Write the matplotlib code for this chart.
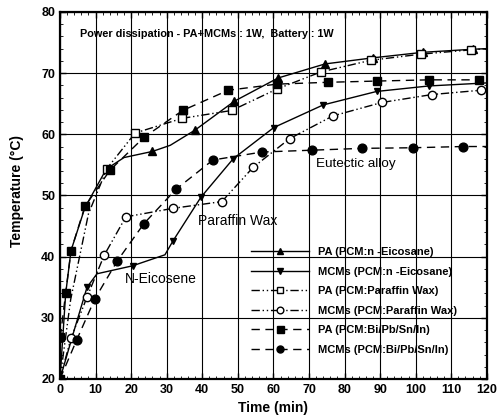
import matplotlib
matplotlib.use("Agg")
import matplotlib.pyplot as plt
from matplotlib.ticker import MultipleLocator

plt.rcParams['font.family'] = ['Liberation Sans', 'DejaVu Sans']

# ---- data ----
pa_eic_x = [0, 1.6, 3.1, 7.0, 13.0, 18.0, 26.0, 31.0, 38.0, 49.0, 61.3, 74.5, 88.0, 102.0, 116.0, 120.0]
pa_eic_y = [20, 34.0, 41.0, 48.0, 54.3, 56.2, 57.2, 58.2, 60.7, 65.4, 69.2, 71.5, 72.5, 73.4, 73.9, 74.0]
pa_eic_m = [6, 8, 9, 10, 11, 12, 13, 14]

mcm_eic_x = [0, 4.0, 7.6, 10.4, 20.4, 29.5, 31.8, 39.6, 48.7, 60.1, 74.0, 89.0, 103.7, 120.0]
mcm_eic_y = [20, 28.0, 35.0, 37.2, 38.5, 40.3, 42.6, 49.7, 56.0, 61.1, 64.8, 67.0, 67.9, 68.4]
mcm_eic_m = [2, 4, 6, 7, 8, 9, 10, 11, 12]

pa_par_x = [0, 3.0, 8.0, 13.2, 21.1, 34.3, 48.3, 61.0, 73.4, 87.4, 101.5, 115.5, 120.0]
pa_par_y = [20, 33.0, 47.0, 54.4, 60.2, 62.6, 63.9, 67.4, 70.2, 72.1, 73.1, 73.8, 74.0]
pa_par_m = [3, 4, 5, 6, 7, 8, 9, 10, 11]

mcm_par_x = [0, 3.1, 7.6, 12.4, 18.5, 31.8, 45.5, 54.3, 64.6, 76.7, 90.5, 104.6, 118.3, 120.0]
mcm_par_y = [20, 26.7, 33.4, 40.2, 46.5, 47.9, 49.0, 54.6, 59.3, 63.0, 65.2, 66.5, 67.2, 67.3]
mcm_par_m = [1, 2, 3, 4, 5, 6, 7, 8, 9, 10, 11, 12]

pa_bi_x = [0, 0.1, 1.6, 3.1, 7.0, 14.0, 23.6, 34.5, 47.3, 61.0, 75.3, 89.0, 103.7, 117.8, 120.0]
pa_bi_y = [20, 26.9, 34.1, 41.0, 48.2, 54.1, 59.5, 63.9, 67.2, 68.2, 68.5, 68.7, 68.9, 68.9, 68.9]
pa_bi_m = [0, 1, 2, 3, 4, 5, 6, 7, 8, 9, 10, 11, 12, 13]

mcm_bi_x = [0, 4.7, 9.8, 16.1, 23.6, 32.6, 43.0, 56.8, 70.8, 84.9, 99.2, 113.3, 120.0]
mcm_bi_y = [20, 26.4, 33.1, 39.3, 45.4, 51.0, 55.8, 57.1, 57.4, 57.7, 57.8, 58.0, 58.0]
mcm_bi_m = [1, 2, 3, 4, 5, 6, 7, 8, 9, 10, 11]

labels = ["PA (PCM:n -Eicosane)", "MCMs (PCM:n -Eicosane)", "PA (PCM:Paraffin Wax)",
          "MCMs (PCM:Paraffin Wax)", "PA (PCM:Bi/Pb/Sn/In)", "MCMs (PCM:Bi/Pb/Sn/In)"]
title_text = "Power dissipation - PA+MCMs : 1W,  Battery : 1W"
x_ticks = list(range(0, 121, 10))
y_ticks = list(range(20, 81, 10))

# ---- figure ----
fig = plt.figure(figsize=(4.98, 4.19), dpi=100)
ax = fig.add_axes([0.1205, 0.0955, 0.857, 0.876])

dashdotdot = (0, (6, 2, 1, 2, 1, 2))
dashed = (0, (6, 4))
lw = 1.0

ax.plot(pa_eic_x, pa_eic_y, color='black', lw=lw, ls='-', marker='^', ms=6,
        markevery=pa_eic_m, label=labels[0])
ax.plot(mcm_eic_x, mcm_eic_y, color='black', lw=lw, ls='-', marker='v', ms=5,
        markevery=mcm_eic_m, label=labels[1])
ax.plot(pa_par_x, pa_par_y, color='black', lw=lw, ls=dashdotdot, marker='s', ms=6,
        mfc='white', mec='black', markevery=pa_par_m, label=labels[2])
ax.plot(mcm_par_x, mcm_par_y, color='black', lw=lw, ls=dashdotdot, marker='o', ms=6,
        mfc='white', mec='black', markevery=mcm_par_m, label=labels[3])
ax.plot(pa_bi_x, pa_bi_y, color='black', lw=lw, ls=dashed, marker='s', ms=6.3,
        markevery=pa_bi_m, label=labels[4])
ax.plot(mcm_bi_x, mcm_bi_y, color='black', lw=lw, ls=dashed, marker='o', ms=6.3,
        markevery=mcm_bi_m, label=labels[5])

ax.set_xlim(0, 120)
ax.set_ylim(20, 80)
ax.set_xticks(x_ticks)
ax.set_yticks(y_ticks)
ax.xaxis.set_minor_locator(MultipleLocator(2))
ax.yaxis.set_minor_locator(MultipleLocator(2))
ax.tick_params(which='both', direction='in', top=True, right=True)
ax.tick_params(which='major', length=4, width=1, labelsize=9)
ax.tick_params(which='minor', length=2, width=0.6)
for t in ax.get_xticklabels() + ax.get_yticklabels():
    t.set_fontweight('bold')
ax.grid(True, which='major', color='black', lw=0.8)
for s in ax.spines.values():
    s.set_linewidth(1.6)

ax.set_xlabel("Time (min)", fontsize=10, fontweight='bold', labelpad=4)
ax.set_ylabel("Temperature (°C)", fontsize=10, fontweight='bold')
ax.yaxis.set_label_coords(-0.085, 0.513)

ax.text(5.5, 76.4, title_text, fontsize=7.8, fontweight='bold', va='center', ha='left')
ax.text(72.0, 55.2, "Eutectic alloy", fontsize=9.7, va='center', ha='left')
ax.text(38.8, 45.8, "Paraffin Wax", fontsize=10, va='center', ha='left')
ax.text(18.3, 36.3, "N-Eicosene", fontsize=10, va='center', ha='left')

leg = ax.legend(loc='upper left', bbox_to_anchor=(0.43, 0.38), frameon=False,
                prop={'size': 8, 'weight': 'bold'}, handlelength=5.2,
                handletextpad=0.8, labelspacing=0.85, borderpad=0.2, markerscale=0.8)

fig.savefig("out.png", dpi=100)
